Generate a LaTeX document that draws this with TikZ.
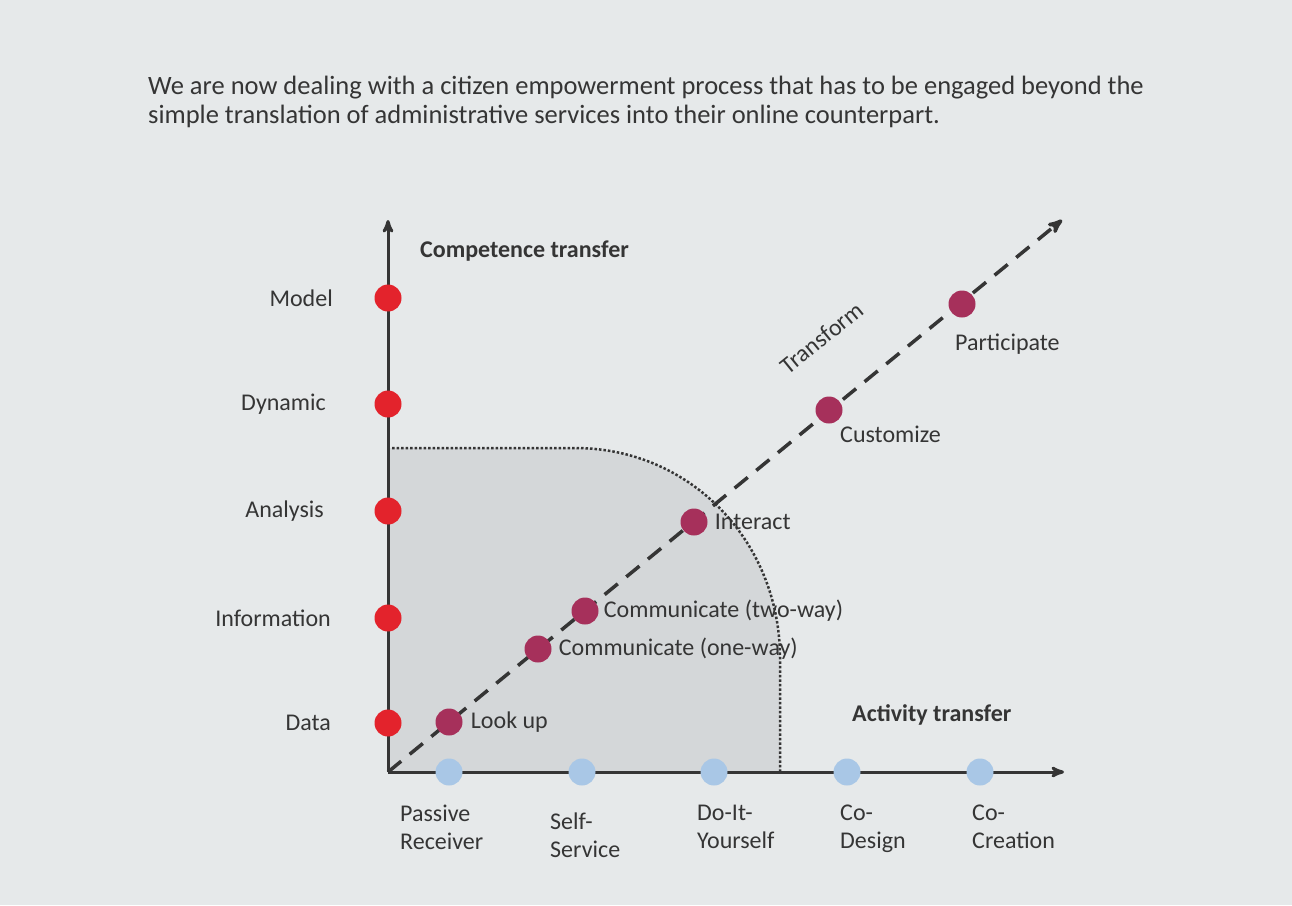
\documentclass[tikz,border=0pt]{standalone}
\usepackage{fontspec}
\setmainfont{Carlito}
\usetikzlibrary{arrows,positioning}
\definecolor{paper}{HTML}{E6E9EA}
\definecolor{areagray}{HTML}{D4D7D9}
\definecolor{ink}{HTML}{353535}
\definecolor{dotred}{HTML}{E3232C}
\definecolor{dotplum}{HTML}{A6305B}
\definecolor{dotblue}{HTML}{A9C7E6}

\begin{document}
\begin{tikzpicture}[x=1pt,y=-1pt,>=stealth',font=\fontsize{24}{28}\selectfont,text=ink]
\tikzstyle{level}=[circle,fill=dotred,minimum size=27pt,inner sep=0pt]
\tikzstyle{role}=[circle,fill=dotblue,minimum size=27pt,inner sep=0pt]
\tikzstyle{mode}=[circle,fill=dotplum,minimum size=27pt,inner sep=0pt]
\tikzstyle{axis}=[->,draw=ink,line width=3pt]
\tikzstyle{lbl}=[inner sep=0pt]
\fill[paper] (0,0) rectangle (1292,905);
\useasboundingbox (0,0) rectangle (1292,905);

\node[lbl,anchor=north west,align=left,font=\fontsize{26.5}{29}\selectfont] (head) at (148,76)
  {We are now dealing with a citizen empowerment process that has to be engaged beyond the\\
   simple translation of administrative services into their online counterpart.};

% shaded area
\fill[areagray] (388,772) -- (388,448) -- (575,448) .. controls (691,448) and (780,542) .. (780,658) -- (780,772) -- cycle;
\draw[ink,line width=2.5pt,dash pattern=on 2.5pt off 2pt] (392,448) -- (575,448) .. controls (691,448) and (780,542) .. (780,658) -- (780,772);

\coordinate (O) at (388,772);
\coordinate (Y) at (388,220);
\coordinate (X) at (1064,772);
\coordinate (T) at (1062,220);
\draw[axis] (O) -- (Y);
\draw[axis] (O) -- (X);
\draw[->,draw=ink,line width=3.5pt,dash pattern=on 17pt off 11pt] (O) -- (T);

\node[lbl,font=\fontsize{24}{28}\selectfont\bfseries,anchor=west] (comp) at (420,251) {Competence transfer};
\node[lbl,font=\fontsize{24}{28}\selectfont\bfseries,anchor=west] (act) at (852,715) {Activity transfer};

% competence levels
\node[level] (L1) at (388,723) {};
\node[level] (L2) at (388,618) {};
\node[level] (L3) at (388,511) {};
\node[level] (L4) at (388,404) {};
\node[level] (L5) at (388,298) {};
\node[lbl,anchor=east] at (331,723) {Data};
\node[lbl,anchor=east] at (331,618) {Information};
\node[lbl,anchor=east] at (324,511) {Analysis};
\node[lbl,anchor=east] at (326,404) {Dynamic};
\node[lbl,anchor=east] at (333,298) {Model};

% activity roles
\node[role] (R1) at (449,772) {};
\node[role] (R2) at (582,772) {};
\node[role] (R3) at (714,772) {};
\node[role] (R4) at (847,772) {};
\node[role] (R5) at (980,772) {};
\node[lbl,anchor=north west,align=left] at (400,805) {Passive\\Receiver};
\node[lbl,anchor=north west,align=left] at (550,813) {Self-\\Service};
\node[lbl,anchor=north west,align=left] at (697,805) {Do-It-\\Yourself};
\node[lbl,anchor=north west,align=left] at (840,805) {Co-\\Design};
\node[lbl,anchor=north west,align=left] at (972,805) {Co-\\Creation};

% transformation steps
\node[mode] (M1) at (449,722) {};
\node[mode] (M2) at (538,649) {};
\node[mode] (M3) at (585,611) {};
\node[mode] (M4) at (694,522) {};
\node[mode] (M5) at (829,410) {};
\node[mode] (M6) at (962,304) {};
\node[lbl,right=8pt of M1] {Look up};
\node[lbl,right=7pt of M2] {Communicate (one-way)};
\node[lbl,right=5pt of M3] {Communicate (two-way)};
\node[lbl,right=7pt of M4] {Interact};
\node[lbl,anchor=west] at (840,434) {Customize};
\node[lbl,anchor=west] at (955,344) {Participate};
\node[lbl,rotate=39] at (822,338) {Transform};
\end{tikzpicture}
\end{document}
